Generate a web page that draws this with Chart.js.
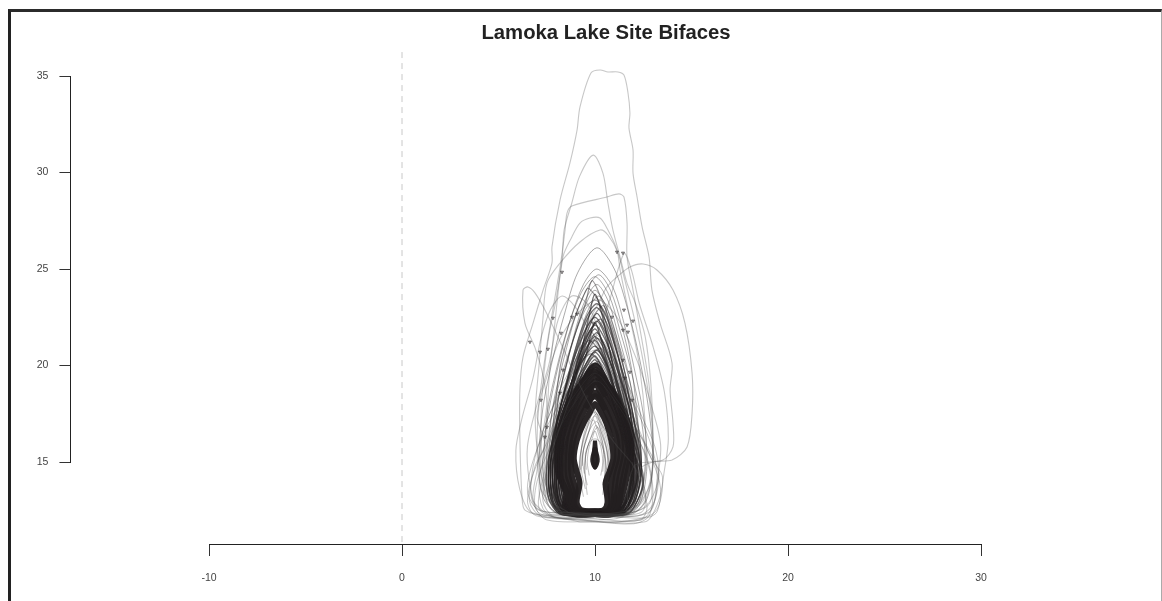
<!DOCTYPE html>
<html lang="en">
<head>
  <meta charset="UTF-8">
  <title>Lamoka Lake Site Bifaces</title>
  <script src="https://cdn.jsdelivr.net/npm/chart.js"></script>
  <style>
    html, body { margin: 0; background: #fff; overflow: hidden; }
    #frame { position: absolute; left: 8px; top: 9px; width: 1150px; height: 600px; border-left: 3px solid #222; border-top: 3px solid #2b2b2b; border-right: 1px solid #aaa; }
    #wrap { position: absolute; left: 0; top: 0; width: 1162px; height: 601px; }
  </style>
</head>
<body>
  <div id="frame"></div>
  <div id="wrap"><canvas id="chartCanvas" width="1162" height="601"></canvas></div>

  <script>
    const chartTitle = 'Lamoka Lake Site Bifaces';
    const xTicks = [-10, 0, 10, 20, 30];
    const yTicks = [15, 20, 25, 30, 35];
    const zeroLine = [[0, 36.24], [0, 10.74]];

    // Large outliers traced one by one
    const outlierBifaces = [
      [[7.51,12.15],[6.37,12.51],[6.22,13.19],[6.11,16.14],[6.11,18.73],[6.27,20.44],[6.79,22.2],[7.31,23.91],[7.77,25.31],[7.77,26.14],[8.19,28.58],[8.7,30.49],[9.07,32.2],[9.22,33.39],[9.79,35.16],[10.26,35.31],[10.67,35.21],[11.19,35.21],[11.5,35.05],[11.71,34.12],[11.81,33.08],[11.76,32.31],[11.97,31.17],[11.97,29.97],[12.18,28.73],[12.44,27.18],[12.8,25.62],[12.95,23.91],[13.37,22.2],[13.99,20.13],[13.89,18.73],[14.04,17.02],[14.04,15.78],[13.52,15.1],[12.07,14.84],[11.71,13.55],[11.55,12.25],[10.26,12.0],[7.51,12.15]],
      [[8.1,12.4],[7.4,14],[7.2,16.5],[7.3,19],[7.6,21.5],[8.0,23.5],[8.3,25.6],[8.4,27.02],[8.8,28.42],[9.2,29.8],[9.91,30.9],[10.41,29.97],[10.67,28.42],[10.93,27.02],[11.3,25.62],[11.66,24.27],[12.1,23.2],[12.6,21.5],[12.9,19],[13,16.5],[12.9,14],[12,12.6],[10,12.3],[8.1,12.4]],
      [[8.0,12.5],[7.2,13.6],[7.0,15.6],[7.1,18],[7.5,21],[8.19,25.1],[8.45,27.02],[8.55,27.9],[8.8,28.26],[10.62,28.73],[11.24,28.89],[11.5,28.73],[11.66,27.38],[11.66,25.62],[11.97,23.91],[12.4,21.5],[12.8,19],[13.0,16.4],[12.9,14],[12.2,12.5],[10,12.2],[8.0,12.5]],
      [[8.3,12.3],[7.6,13.4],[7.5,16],[7.6,19],[7.9,22],[8.34,25.62],[8.8,26.66],[9.22,27.38],[9.74,27.64],[10.26,27.64],[10.67,27.02],[11.14,25.98],[11.3,24.95],[11.8,22.5],[12.3,20],[12.6,17],[12.6,14.4],[12,12.5],[10,12.3],[8.3,12.3]],
      [[8.6,12.4],[7.6,13.1],[7.1,15],[6.9,17.4],[7.1,20],[7.3,22.4],[7.51,24.27],[8.19,25.31],[9.22,26.4],[10.26,27.02],[10.67,26.76],[11.19,25.83],[11.5,24.6],[12,22.6],[12.5,20.2],[12.9,17.5],[13,15],[12.5,13],[11.5,12.3],[8.6,12.4]],
      [[9.22,11.89],[7.15,12.51],[7.41,14.59],[7.93,17.18],[8.7,19.77],[9.48,21.84],[10.26,23.39],[10.62,24.07],[11.14,24.59],[11.81,25.1],[12.49,25.26],[13.21,24.95],[14.04,23.91],[14.66,22.2],[15.03,19.61],[15.03,17.54],[14.77,15.78],[13.99,15.1],[13.0,15.0],[12.33,14.59],[12.7,12.67],[12.33,12.0],[9.22,11.89]],
      [[7.5,12.3],[6.8,13],[7.0,14.6],[7.2,16],[7.5,18],[7.3,19.5],[6.9,20.9],[6.37,22.2],[6.27,23.91],[6.53,24.07],[6.89,23.76],[7.5,22.7],[8.3,21],[9.2,19],[10.0,17.5],[11,16],[12,14.8],[12.6,13.5],[12.4,12.4],[10,12.2],[7.5,12.3]],
      [[8.6,12.2],[6.7,12.4],[6.1,13.6],[5.9,15.6],[6.2,17.2],[6.8,19.4],[7.2,21.4],[7.7,22.9],[8.3,23.6],[9.0,23.0],[9.8,21.6],[10.8,19.8],[11.6,17.6],[12.2,15.4],[12.5,13.4],[11.6,12.3],[8.6,12.2]],
      [[9,12.0],[7.8,12.2],[7.3,13],[7.6,15],[8.4,17.4],[9.2,19.6],[10,21.4],[10.7,23.2],[11.5,25.8],[11.9,24.9],[12.3,23.2],[13,21],[13.6,18.6],[13.8,16.2],[13.6,14.6],[13.3,13],[12.6,11.9],[9,12.0]],
      [[8.4,12.3],[7.0,12.6],[6.6,14],[6.5,15.8],[7.0,18],[7.6,20],[8.1,22.4],[8.8,23.6],[9.6,23.2],[10.4,21.2],[11.2,19],[12,17],[12.8,15.6],[13.3,14.4],[13,12.8],[12.2,12.2],[8.4,12.3]],
      [[9.8,12.1],[7.2,12.2],[6.6,13],[6.9,14.8],[7.4,15.9],[7.0,17.4],[7.5,19.4],[8.2,21.4],[9.2,22.8],[10.2,23.4],[11.2,22.4],[12.2,20.2],[12.9,18],[13.4,15.9],[13.2,13.9],[12.8,12.4],[9.8,12.1]]
    ];

    // Squat, wide outlines round the base
    const baseBifaces = [
      [[9.5,12.1],[7.2,12.3],[6.7,13.2],[6.8,14.8],[7.3,16.6],[8.1,18.4],[9,19.8],[10,20.8],[11,19.7],[12,18],[12.8,16.2],[13.2,14.6],[13.1,13],[12.4,12],[9.5,12.1]],
      [[10,11.9],[7.5,12],[6.9,12.7],[7.0,14],[7.6,15.6],[8.4,17.2],[9.2,18.4],[10.1,19.2],[11,18.2],[11.9,16.8],[12.7,15.2],[13.0,13.6],[12.8,12.2],[12,11.8],[10,11.9]],
      [[9,12.4],[7.1,12.5],[6.5,13.5],[6.9,15.4],[7.8,17.4],[8.8,19],[9.8,20.1],[10.8,19.2],[11.8,17.2],[12.5,15.6],[12.9,14.2],[12.8,12.8],[11.4,12.3],[9,12.4]],
      [[10.4,12.2],[8,12.1],[7.3,12.6],[7.1,13.8],[7.4,15.5],[8,17],[8.9,18.4],[10,19.6],[11,18.4],[12.2,16.6],[13,15],[13.4,13.6],[13.2,12.4],[12.6,12.1],[10.4,12.2]],
      [[9.2,12],[7.6,12.1],[6.8,12.3],[6.5,13],[6.8,14.4],[7.5,16],[8.2,18],[9,19.2],[9.9,20.4],[10.9,19.6],[11.7,18],[12.4,16.4],[12.9,15.2],[13.5,14.2],[13.1,12.4],[11.2,11.9],[9.2,12]],
      [[10,12.3],[7.9,12.4],[7.4,13.2],[7.2,14.6],[7.2,16.2],[7.7,17.6],[8.4,19.2],[9.2,20.6],[10,21.6],[10.9,20.6],[11.7,19],[12.5,17.2],[13.1,15.8],[13.3,14.2],[12.8,12.9],[12,12.4],[10,12.3]]
    ];

    // Ordinary outlines, thin, tallest first
    const middleBifaces = [
      [[9.9,12.3],[8,12.4],[7.3,13.2],[7.1,15.2],[7.3,17.8],[7.8,20.3],[8.4,22.6],[9.1,24.8],[10.1,26.1],[11,25],[11.7,22.9],[12.3,20.4],[12.8,17.6],[13,15.1],[12.7,13.1],[11.9,12.3],[9.9,12.3]],
      [[10,12.2],[8.1,12.3],[7.5,13],[7.3,15],[7.6,17.6],[8.1,20],[8.7,22.3],[9.4,24.2],[10.1,25],[10.9,24.1],[11.5,22.2],[12,20],[12.5,17.5],[12.7,15],[12.4,13],[11.8,12.3],[10,12.2]],
      [[10.1,12.4],[8.4,12.4],[7.7,13.2],[7.6,15.2],[7.8,17.8],[8.4,20.4],[9,22.6],[9.6,24],[10.2,24.7],[10.8,23.9],[11.4,22],[11.9,19.8],[12.2,17.3],[12.4,15],[12.1,13.1],[11.5,12.4],[10.1,12.4]],
      [[10,12.3],[8.3,12.3],[7.6,13.1],[7.4,15],[7.5,17.4],[8,19.8],[8.6,22],[9.3,23.8],[10,24.6],[10.7,23.7],[11.3,21.8],[11.9,19.6],[12.4,17.2],[12.6,15],[12.3,13],[11.6,12.3],[10,12.3]],
      [[9.8,12.4],[8.2,12.4],[7.7,13.3],[7.6,15.1],[7.9,17.5],[8.5,19.9],[9,21.9],[9.5,23.4],[10.1,24.2],[10.7,23.3],[11.2,21.6],[11.7,19.7],[12.1,17.4],[12.3,15.2],[12,13.2],[11.4,12.4],[9.8,12.4]],
      [[10,12.2],[8.4,12.3],[7.8,13],[7.7,14.8],[7.9,17],[8.3,19.2],[8.9,21.4],[9.5,23.1],[10,23.9],[10.6,23],[11.2,21.2],[11.8,19.2],[12.2,17.1],[12.4,14.9],[12.1,13],[11.5,12.3],[10,12.2]],
      [[10.2,12.3],[8.5,12.4],[7.9,13.2],[7.8,15],[8.1,17.3],[8.6,19.5],[9.2,21.6],[9.7,23],[10.2,23.6],[10.7,22.8],[11.2,21.2],[11.6,19.4],[12,17.3],[12.2,15.1],[11.9,13.2],[11.3,12.4],[10.2,12.3]],
      [[9.9,12.3],[8.2,12.4],[7.6,13.2],[7.5,15.3],[7.8,17.7],[8.4,19.9],[9,21.7],[9.5,22.9],[10,23.4],[10.6,22.6],[11.1,21.1],[11.7,19.1],[12.2,17],[12.4,15],[12.1,13.1],[11.4,12.3],[9.9,12.3]],
      [[10,12.4],[8.6,12.4],[8,13.3],[7.9,15.2],[8.1,17.3],[8.6,19.4],[9.1,21.2],[9.6,22.6],[10.1,23.2],[10.6,22.5],[11.1,20.9],[11.5,19.1],[11.9,17.1],[12.1,15.2],[11.8,13.3],[11.2,12.4],[10,12.4]],
      [[10.1,12.2],[8.3,12.3],[7.8,13],[7.7,14.9],[8,17],[8.5,19],[9.1,21],[9.6,22.4],[10.1,23],[10.6,22.2],[11.2,20.5],[11.7,18.6],[12.1,16.8],[12.3,14.8],[12,13],[11.4,12.3],[10.1,12.2]],
      [[9.9,12.4],[8.6,12.4],[8.1,13.2],[8,15],[8.3,17.2],[8.8,19.2],[9.3,20.9],[9.7,22],[10.1,22.7],[10.5,22],[11,20.4],[11.4,18.8],[11.8,16.9],[12,15],[11.7,13.2],[11.1,12.4],[9.9,12.4]],
      [[10,12.3],[8.4,12.3],[7.9,13.1],[7.8,14.9],[8,16.9],[8.5,18.9],[9,20.6],[9.6,22],[10,22.5],[10.5,21.8],[11.1,20.2],[11.6,18.4],[12,16.6],[12.2,14.8],[11.9,13.1],[11.3,12.3],[10,12.3]],
      [[10.1,12.4],[8.7,12.4],[8.2,13.3],[8.1,15.2],[8.3,17],[8.7,18.8],[9.2,20.5],[9.7,21.7],[10.1,22.3],[10.5,21.6],[10.9,20.2],[11.3,18.6],[11.7,16.8],[11.9,15.1],[11.6,13.3],[11,12.4],[10.1,12.4]],
      [[10,12.2],[8.3,12.3],[7.7,13.1],[7.6,14.8],[7.9,16.7],[8.4,18.5],[9,20.3],[9.5,21.4],[10,22.1],[10.5,21.4],[11.1,19.9],[11.7,18.1],[12.2,16.4],[12.4,14.7],[12.1,13],[11.5,12.3],[10,12.2]],
      [[9.9,12.3],[8.5,12.3],[8,13.2],[7.9,15],[8.2,16.8],[8.7,18.6],[9.2,20.2],[9.6,21.3],[10,21.9],[10.4,21.2],[10.9,19.9],[11.4,18.2],[11.8,16.5],[12,14.9],[11.7,13.2],[11.2,12.3],[9.9,12.3]],
      [[10,12.4],[8.7,12.4],[8.2,13.2],[8.1,14.9],[8.3,16.8],[8.7,18.4],[9.2,20],[9.7,21.2],[10.1,21.7],[10.5,21],[11,19.5],[11.4,17.9],[11.8,16.4],[12,14.8],[11.7,13.2],[11.1,12.4],[10,12.4]],
      [[10.1,12.3],[8.4,12.3],[7.8,13.1],[7.7,15],[8,16.9],[8.5,18.4],[9.1,19.9],[9.6,20.9],[10,21.5],[10.5,20.8],[11.1,19.3],[11.6,17.7],[12.1,16.2],[12.3,14.7],[12,13],[11.4,12.3],[10.1,12.3]],
      [[10,12.2],[8.6,12.3],[8.1,13.1],[8,14.8],[8.2,16.5],[8.6,18.1],[9.1,19.6],[9.6,20.7],[10,21.3],[10.4,20.6],[10.9,19.2],[11.4,17.6],[11.8,16],[12,14.6],[11.7,13.1],[11.1,12.3],[10,12.2]],
      [[9.9,12.4],[8.3,12.4],[7.7,13.2],[7.6,14.9],[7.9,16.6],[8.4,18.1],[9,19.6],[9.5,20.5],[10,21],[10.5,20.3],[11.1,18.9],[11.7,17.3],[12.2,15.8],[12.4,14.4],[12.1,13.1],[11.5,12.4],[9.9,12.4]],
      [[10,12.3],[8.8,12.3],[8.3,13.2],[8.2,14.9],[8.4,16.5],[8.8,18],[9.3,19.5],[9.7,20.4],[10.1,20.8],[10.5,20.2],[10.9,19],[11.3,17.5],[11.7,16],[11.9,14.7],[11.6,13.2],[11.1,12.3],[10,12.3]],
      [[10.1,12.2],[8.5,12.3],[8,13],[7.8,14.6],[8.1,16.3],[8.5,17.8],[9.1,19.3],[9.6,20.2],[10,20.7],[10.5,20],[11,18.7],[11.5,17.2],[12,15.7],[12.2,14.3],[11.9,13],[11.3,12.3],[10.1,12.2]],
      [[10,12.4],[8.4,12.4],[7.8,13.3],[7.7,15],[8,16.4],[8.6,17.9],[9.1,19.1],[9.6,20],[10,20.5],[10.4,19.8],[11,18.5],[11.5,17],[12,15.6],[12.2,14.4],[11.9,13.2],[11.4,12.4],[10,12.4]],
      [[9.9,12.3],[8.7,12.3],[8.2,13.1],[8.1,14.7],[8.3,16.2],[8.7,17.6],[9.2,18.9],[9.6,19.8],[10,20.3],[10.4,19.6],[10.8,18.5],[11.3,17],[11.7,15.6],[11.9,14.4],[11.6,13.1],[11.1,12.3],[9.9,12.3]],
      [[10,12.2],[8.2,12.3],[7.6,13.1],[7.5,14.7],[7.9,16.3],[8.5,17.7],[9.1,19],[9.6,19.7],[10.1,20.1],[10.6,19.4],[11.1,18.3],[11.7,16.8],[12.2,15.4],[12.5,14.2],[12.2,13],[11.6,12.3],[10,12.2]],
      [[10.1,12.3],[8.8,12.3],[8.3,13.2],[8.2,14.7],[8.5,16.1],[8.9,17.4],[9.3,18.6],[9.7,19.5],[10.1,19.9],[10.5,19.3],[10.9,18.2],[11.3,16.8],[11.7,15.5],[11.9,14.3],[11.6,13.2],[11.1,12.3],[10.1,12.3]],
      [[10,12.4],[8.4,12.4],[7.9,13.3],[7.8,14.8],[8.1,16.2],[8.6,17.5],[9.1,18.6],[9.6,19.3],[10,19.7],[10.5,19],[11,17.9],[11.5,16.6],[12,15.3],[12.2,14.2],[11.9,13.2],[11.4,12.4],[10,12.4]],
      [[9.9,12.2],[8.6,12.3],[8.1,13],[8,14.5],[8.3,15.9],[8.7,17.1],[9.2,18.3],[9.6,19.1],[10,19.5],[10.4,18.9],[10.9,17.8],[11.4,16.4],[11.8,15.1],[12,14],[11.7,13],[11.2,12.3],[9.9,12.2]],
      [[10,12.3],[8.2,12.3],[7.7,13.1],[7.6,14.4],[7.9,15.8],[8.5,17.1],[9.1,18.3],[9.6,18.9],[10,19.3],[10.5,18.7],[11.1,17.6],[11.7,16.2],[12.2,15],[12.5,13.9],[12.2,13],[11.7,12.3],[10,12.3]],
      [[10,12.3],[8.5,12.3],[8,13.1],[7.9,14.4],[8.1,15.8],[8.5,17.2],[9,18.9],[9.5,20.4],[10,22.2],[10.5,20.6],[11,18.8],[11.4,17],[11.8,15.4],[12,14.2],[11.7,13],[11.2,12.3],[10,12.3]],
      [[10,12.2],[8.6,12.3],[8.1,13],[8,14.7],[8.3,16.8],[8.8,18.8],[9.3,20.8],[9.7,22.6],[10,23.7],[10.4,22.5],[10.8,20.6],[11.2,18.6],[11.7,16.6],[11.9,14.8],[11.6,13],[11.1,12.3],[10,12.2]]
    ];

    // Lopsided outlines that break up the concentric look near the tips
    const skewBifaces = [
      [[10,12.3],[8.6,12.3],[8.1,13.4],[8,15.6],[8.05,17.9],[8.5,20],[9.05,21.9],[9.5,23.2],[9.85,24.4],[10.35,23.4],[10.95,21.8],[11.55,19.6],[11.85,17.4],[11.95,15],[11.75,13.4],[11.2,12.4],[10,12.3]],
      [[10.2,12.4],[8.7,12.3],[8.3,13.3],[8.1,15],[8.35,17.6],[8.95,19.7],[9.35,21.5],[9.95,22.6],[10.45,23.1],[10.75,22.1],[11.05,20.9],[11.65,18.9],[12.05,16.9],[12.15,14.9],[11.85,13.1],[11.3,12.4],[10.2,12.4]],
      [[9.8,12.3],[8.4,12.4],[7.9,13.4],[7.75,15.5],[7.95,18],[8.25,20.2],[8.85,22.2],[9.4,23.6],[9.65,24],[10.25,23.2],[10.75,21.5],[11.25,19.6],[11.7,17.6],[11.9,15.4],[11.7,13.4],[11.15,12.4],[9.8,12.3]],
      [[10,12.3],[8.8,12.4],[8.4,13.2],[8.3,15.1],[8.45,17.2],[8.85,18.9],[9.45,20.8],[9.85,21.9],[10.3,22.4],[10.8,21.4],[11.3,19.6],[11.75,17.9],[12,16.1],[12.05,14.5],[11.85,13.2],[11.35,12.3],[10,12.3]],
      [[10.1,12.4],[8.5,12.3],[8,13.1],[7.95,14.9],[8.25,16.9],[8.8,18.7],[9.15,20],[9.45,21.1],[9.75,21.8],[10.2,21.1],[10.7,19.9],[11.25,18],[11.8,16.3],[12.1,14.8],[11.9,13.2],[11.4,12.4],[10.1,12.4]],
      [[10,12.2],[8.7,12.3],[8.2,13.2],[8.1,14.8],[8.2,16.6],[8.55,18.3],[9.05,19.9],[9.6,21],[10.15,21.4],[10.6,20.9],[11.2,19.3],[11.65,17.7],[11.95,16],[12,14.3],[11.8,13],[11.25,12.3],[10,12.2]],
      [[9.9,12.3],[8.4,12.3],[7.85,13.2],[7.85,15],[8.1,16.9],[8.5,18.6],[9,20.1],[9.35,20.9],[9.7,21.3],[10.25,20.7],[10.8,19.4],[11.2,18.2],[11.6,16.7],[11.85,15],[11.75,13.3],[11.25,12.4],[9.9,12.3]],
      [[10.1,12.3],[8.8,12.3],[8.35,13.1],[8.2,14.6],[8.4,16.3],[8.8,17.9],[9.3,19.4],[9.8,20.4],[10.3,20.9],[10.75,20],[11.3,18.5],[11.75,16.9],[12.05,15.5],[12.15,14.1],[11.9,13],[11.4,12.3],[10.1,12.3]],
      [[10,12.4],[8.5,12.4],[8.05,13.3],[7.95,14.9],[8.15,16.6],[8.45,18],[9,19.5],[9.4,20.3],[9.8,20.6],[10.3,20],[10.7,18.9],[11.15,17.4],[11.6,15.9],[11.9,14.6],[11.75,13.3],[11.3,12.4],[10,12.4]],
      [[10,12.3],[8.6,12.3],[8.1,13.2],[8.05,14.6],[8.25,16.1],[8.7,17.7],[9.25,19.1],[9.7,19.9],[10.2,20.2],[10.65,19.5],[11.1,18.4],[11.55,16.9],[11.95,15.5],[12.1,14.2],[11.9,13.1],[11.45,12.3],[10,12.3]],
      [[9.8,12.2],[8.3,12.3],[7.8,13.1],[7.75,14.7],[8,16.2],[8.4,17.5],[8.95,18.9],[9.45,19.6],[9.85,19.9],[10.4,19.3],[10.95,18],[11.35,16.8],[11.8,15.4],[12,14.2],[11.85,13.1],[11.35,12.3],[9.8,12.2]],
      [[10.2,12.3],[8.8,12.4],[8.4,13.2],[8.35,14.6],[8.5,16],[8.85,17.2],[9.35,18.5],[9.8,19.3],[10.25,19.6],[10.7,19],[11.15,17.8],[11.6,16.4],[11.95,15.1],[12.05,14],[11.85,13.2],[11.4,12.4],[10.2,12.3]]
    ];

    // The dark mass: outlines packed tightly, outer ones first
    const coreBifaces = [
      [[10,12.3],[8.9,12.3],[8.45,12.7],[8.5,13.3],[8.2,14.3],[8.2,15.5],[8.35,16.6],[8.75,17.7],[9.3,18.9],[10,20],[10.7,18.9],[11.25,17.9],[11.65,16.6],[11.75,15.6],[11.5,14.3],[11.3,13.3],[11.2,12.7],[10.9,12.3],[10,12.3]],
      [[10,12.35],[9,12.35],[8.6,12.75],[8.7,13.4],[8.4,14.3],[8.4,15.4],[8.55,16.5],[8.95,17.6],[9.45,18.6],[10,19.5],[10.55,18.6],[11.05,17.7],[11.45,16.6],[11.55,15.5],[11.3,14.3],[11.15,13.4],[11.05,12.75],[10.8,12.35],[10,12.35]],
      [[10,12.4],[9.1,12.4],[8.75,12.8],[8.85,13.4],[8.6,14.3],[8.6,15.3],[8.75,16.4],[9.1,17.4],[9.55,18.3],[10,19],[10.45,18.3],[10.9,17.4],[11.25,16.4],[11.35,15.4],[11.1,14.3],[11,13.4],[10.95,12.8],[10.7,12.4],[10,12.4]],
      [[10,12.45],[9.2,12.45],[8.9,12.85],[9,13.5],[8.8,14.3],[8.75,15.2],[8.9,16.3],[9.25,17.3],[9.65,18],[10,18.6],[10.4,18],[10.75,17.2],[11.1,16.3],[11.15,15.3],[10.9,14.3],[10.8,13.5],[10.85,12.85],[10.6,12.45],[10,12.45]],
      [[10,12.45],[9.3,12.5],[9.05,12.9],[9.2,13.9],[9.05,14.5],[8.9,15.2],[9.05,16.1],[9.4,17],[9.75,17.6],[10,18],[10.3,17.6],[10.6,17],[10.85,16.1],[10.95,15.2],[10.75,14.5],[10.55,13.9],[10.65,12.9],[10.45,12.5],[10,12.45]],
      [[10,12.3],[9,12.3],[8.6,12.6],[8.6,13.3],[8.1,14.4],[8.05,15.6],[8.2,16.8],[8.55,17.9],[9.1,18.8],[9.9,19.7],[10.55,19.1],[11.15,18.3],[11.75,16.9],[11.9,15.7],[11.7,14.5],[11.45,13.4],[11.15,12.6],[10.8,12.3],[10,12.3]],
      [[9.5,17.8],[9.8,18.3],[10.05,18.4],[10.3,18.1],[10.55,17.7]],
      [[9.55,18.5],[9.85,19],[10.05,19.2],[10.3,18.9],[10.55,18.4]]
    ];

    // Narrow little outlines showing in the pale hollow
    const tipBifaces = [
      [[9.5,13.6],[9.3,14.6],[9.4,15.6],[9.7,16.6],[10,17.4],[10.3,16.6],[10.6,15.6],[10.7,14.6],[10.5,13.6]],
      [[9.6,13.8],[9.45,14.6],[9.55,15.5],[9.8,16.3],[10.05,16.9],[10.3,16.3],[10.5,15.5],[10.55,14.6],[10.4,13.8]],
      [[9.7,14.3],[9.6,15],[9.7,15.8],[9.85,16.2],[10,16.6],[10.15,16.2],[10.3,15.8],[10.4,15],[10.3,14.3]],
      [[9.4,13.2],[9.2,14.4],[9.25,15.4],[9.55,16.6],[9.95,17.7],[10.35,16.7],[10.65,15.5],[10.75,14.4],[10.55,13.2]],
      [[9.6,13.3],[9.5,14.2],[9.5,15.2],[9.7,16],[10,16.2],[10.3,16],[10.5,15.2],[10.5,14.2],[10.4,13.3]],
      [[9.3,14],[9.2,15],[9.4,16.2],[9.7,17],[10.1,17.5],[10.4,16.9],[10.7,16],[10.8,15],[10.6,14]],
      [[9.45,14.4],[9.35,15.2],[9.5,16.1],[9.8,16.8],[10.1,17.1],[10.35,16.5],[10.6,15.7],[10.65,14.9],[10.5,14.2]],
      [[9.35,14.8],[9.4,15.6],[9.6,16.3],[9.9,17.2],[10.2,16.4],[10.5,15.4],[10.6,14.6]],
      [[9.55,14.6],[9.5,15.4],[9.65,15.9],[9.9,16.5],[10.15,16.8],[10.4,16],[10.45,15.2],[10.4,14.5]],
      [[9.25,14.6],[9.3,15.7],[9.5,16.7],[10,17.6],[10.45,16.6],[10.7,15.6],[10.75,14.7]]
    ];
    const dropBifaces = [
      [[10,15.75],[9.88,15.3],[9.86,15.05],[10,14.72],[10.14,15.05],[10.12,15.3],[10,15.75]],
      [[10,16.1],[9.95,15.5],[9.96,15],[10,14.7],[10.04,15],[10.05,15.5],[10,16.1]]
    ];

    // Small arrowhead landmarks along the outlines
    const landmarkPoints = [
      [6.63,21.22],[7.15,20.7],[7.56,20.85],[7.82,22.46],[8.81,22.51],[9.07,22.67],[8.24,21.68],[8.34,19.77],[7.2,18.21],
      [7.51,16.81],[7.41,16.3],[7.31,14.22],[11.5,22.88],[11.97,22.31],[11.66,22.1],[11.71,21.74],[11.45,21.84],[10.88,22.51],
      [9.9,22.2],[11.45,20.28],[11.55,19.35],[11.81,19.66],[11.92,18.21],[8.19,18.58],[8.29,24.84],[11.14,25.88],[11.45,25.83]
    ];

    function outlineSet(list, color, width) {
      return list.map(points => ({
        data: points, showLine: true, pointRadius: 0, borderColor: color, borderWidth: width, tension: 0.3, clip: false
      }));
    }

    const datasets = [
      { data: zeroLine, showLine: true, pointRadius: 0, borderColor: '#c8c8c8', borderWidth: 1, borderDash: [6, 5], clip: false },
      ...outlineSet(outlierBifaces, 'rgba(80,80,80,0.32)', 1.1),
      ...outlineSet(baseBifaces, 'rgba(60,60,60,0.3)', 1),
      ...outlineSet(middleBifaces, 'rgba(35,31,32,0.38)', 1),
      ...outlineSet(skewBifaces, 'rgba(35,31,32,0.46)', 1.2),
      ...outlineSet(middleBifaces.slice(8), 'rgba(35,31,32,0.46)', 1.4),
      ...outlineSet(coreBifaces, 'rgba(35,31,32,0.97)', 6),
      ...outlineSet(tipBifaces, 'rgba(35,31,32,0.28)', 1),
      ...outlineSet(dropBifaces, 'rgba(35,31,32,0.97)', 4),
      { data: landmarkPoints, showLine: false, pointStyle: 'triangle', rotation: 180, pointRadius: 1.8, pointBackgroundColor: 'rgba(35,31,32,0.3)', pointBorderColor: 'rgba(35,31,32,0.75)', pointBorderWidth: 0.7, clip: false }
    ];

    // the title sits right of the axis centre, the y axis stands well left of the plot
    const placeBlocks = {
      id: 'placeBlocks',
      afterLayout(chart) {
        chart.titleBlock.left += 22;
        const yScale = chart.scales.y;
        yScale.right = chart.scales.x.getPixelForValue(-17.18);
        yScale.left = yScale.right - 60;
      }
    };

    const tickFont = { family: '"Liberation Sans", Arial, sans-serif', size: 10.5 };
    const axisLook = {
      border: { display: true, color: '#222', width: 1 },
      grid: { display: true, drawOnChartArea: false, drawTicks: true, tickLength: 11, color: '#333', tickWidth: 1 }
    };

    new Chart(document.getElementById('chartCanvas'), {
      type: 'scatter',
      data: { datasets },
      plugins: [placeBlocks],
      options: {
        responsive: false,
        animation: false,
        events: [],
        layout: { padding: { left: 209, right: 181, top: 21, bottom: 139 } },
        plugins: {
          legend: { display: false },
          tooltip: { enabled: false },
          title: {
            display: true, text: chartTitle, color: '#222',
            font: { family: '"Liberation Sans", Arial, sans-serif', size: 20.3, weight: 'bold', lineHeight: 1.2 },
            padding: { top: 0, bottom: 30.64 }
          }
        },
        scales: {
          x: {
            type: 'linear', min: -10, max: 30, position: { y: 10.74 },
            afterBuildTicks: s => { s.ticks = xTicks.map(value => ({ value })); },
            ...axisLook,
            ticks: { color: '#444', padding: 17, maxRotation: 0, font: tickFont }
          },
          y: {
            type: 'linear', min: 15, max: 35, position: 'left',
            afterFit: s => { s.width = 0; },
            afterBuildTicks: s => { s.ticks = yTicks.map(value => ({ value })); },
            ...axisLook,
            ticks: { color: '#444', padding: 11, font: tickFont }
          }
        }
      }
    });
  </script>
</body>
</html>
